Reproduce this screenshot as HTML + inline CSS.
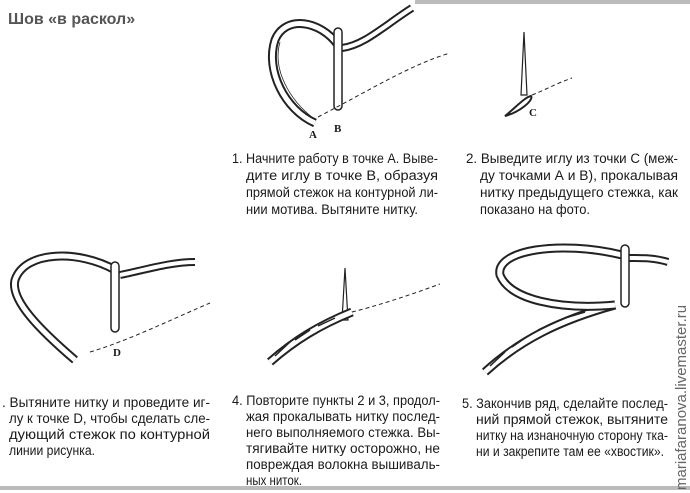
<!DOCTYPE html>
<html><head><meta charset="utf-8"><style>
body{margin:0;background:#fff;}
svg{display:block}
text{font-family:"Liberation Sans",sans-serif;fill:#1a1a1a;}
.p{font-size:13.5px}
</style></head><body>
<svg width="690" height="493" viewBox="0 0 690 493" xmlns="http://www.w3.org/2000/svg">
<rect width="690" height="493" fill="#fff"/>
<rect x="415" y="0" width="275" height="4" fill="#bbb"/>
<rect x="0" y="486" width="690" height="4" fill="#bbb"/>
<text x="8" y="24" style="font-size:16px;font-weight:bold;fill:#555">Шов «в раскол»</text>

<g fill="none" stroke="#222">
<!-- fig1 -->
<path d="M315,123 C285,110 265,70 275,40 C285,15 320,20 338,45" stroke-width="9"/>
<path d="M315,123 C285,110 265,70 275,40 C285,15 320,20 338,45" stroke-width="5" stroke="#fff"/>
<path d="M313,118 C290,100 272,70 280,42" stroke-width="0.8"/>
<path d="M342,48 C365,45 385,25 412,8" stroke-width="8"/>
<path d="M342,48 C365,45 385,25 412,8" stroke-width="4" stroke="#fff"/>
<rect x="334" y="28" width="8" height="82" rx="4" stroke-width="1.5" fill="#fff"/>
<path d="M318,117 C370,90 410,65 450,53" stroke-width="1" stroke-dasharray="4,3"/>
<!-- fig2 -->
<path d="M524,32 L521,95 L527,95 Z" stroke-width="1.2" fill="#fff"/>
<path d="M505,116 C515,108 525,97 531,96 C534,100 520,112 505,116 Z" stroke-width="2" fill="#fff"/>
<path d="M532,95 C545,90 555,84 572,78" stroke-width="1" stroke-dasharray="4,3"/>
<!-- fig3 -->
<path d="M75,360 C40,330 10,300 15,280 C25,250 80,250 115,270" stroke-width="9"/>
<path d="M75,360 C40,330 10,300 15,280 C25,250 80,250 115,270" stroke-width="5" stroke="#fff"/>
<path d="M120,275 C145,270 170,262 195,262" stroke-width="8"/>
<path d="M120,275 C145,270 170,262 195,262" stroke-width="4" stroke="#fff"/>
<rect x="111" y="262" width="8" height="70" rx="4" stroke-width="1.5" fill="#fff"/>
<path d="M90,352 C130,340 170,320 210,303" stroke-width="1" stroke-dasharray="4,3"/>
<!-- fig4 -->
<path d="M345,268 L342,320 L348,320 Z" stroke-width="1.2" fill="#fff"/>
<path d="M270,362 C295,340 320,325 352,312" stroke-width="9"/>
<path d="M270,362 C295,340 320,325 352,312" stroke-width="5" stroke="#fff"/>
<path d="M275,356 L290,342 M295,340 L310,330 M318,326 L335,318" stroke-width="1.5"/>
<path d="M352,312 C380,305 410,295 440,284" stroke-width="1" stroke-dasharray="4,3"/>
<!-- fig5 -->
<path d="M485,372 C520,340 560,320 615,305" stroke-width="9"/>
<path d="M485,372 C520,340 560,320 615,305" stroke-width="5" stroke="#fff"/>
<path d="M490,366 L505,352 M512,347 L528,336 M538,330 L555,322 M565,318 L585,312" stroke-width="1.5"/>
<path d="M615,305 C560,310 510,300 500,275 C495,250 560,240 622,255" stroke-width="9"/>
<path d="M615,305 C560,310 510,300 500,275 C495,250 560,240 622,255" stroke-width="5" stroke="#fff"/>
<path d="M628,258 C645,258 655,258 668,262" stroke-width="8"/>
<path d="M628,258 C645,258 655,258 668,262" stroke-width="4" stroke="#fff"/>
<rect x="621" y="245" width="8" height="62" rx="4" stroke-width="1.5" fill="#fff"/>
</g>
<text x="309" y="138" style="font-family:'Liberation Serif',serif;font-size:11px;font-weight:bold">A</text>
<text x="334" y="132" style="font-family:'Liberation Serif',serif;font-size:11px;font-weight:bold">B</text>
<text x="529" y="116" style="font-family:'Liberation Serif',serif;font-size:11px;font-weight:bold">C</text>
<text x="113" y="356" style="font-family:'Liberation Serif',serif;font-size:11px;font-weight:bold">D</text>

<g class="p" lengthAdjust="spacingAndGlyphs">
<text x="232" y="163" textLength="206" lengthAdjust="spacingAndGlyphs">1. Начните работу в точке А. Выве-</text>
<text x="246" y="180" textLength="192" lengthAdjust="spacingAndGlyphs">дите иглу в точке В, образуя</text>
<text x="246" y="197" textLength="192" lengthAdjust="spacingAndGlyphs">прямой стежок на контурной ли-</text>
<text x="246" y="214" textLength="172" lengthAdjust="spacingAndGlyphs">нии мотива. Вытяните нитку.</text>
<text x="466" y="163" textLength="212" lengthAdjust="spacingAndGlyphs">2. Выведите иглу из точки С (меж-</text>
<text x="480" y="180" textLength="198" lengthAdjust="spacingAndGlyphs">ду точками А и В), прокалывая</text>
<text x="480" y="197" textLength="198" lengthAdjust="spacingAndGlyphs">нитку предыдущего стежка, как</text>
<text x="480" y="214" textLength="110" lengthAdjust="spacingAndGlyphs">показано на фото.</text>

<text x="2" y="407" textLength="208" lengthAdjust="spacingAndGlyphs">. Вытяните нитку и проведите иг-</text>
<text x="9" y="423" textLength="201" lengthAdjust="spacingAndGlyphs">лу к точке D, чтобы сделать сле-</text>
<text x="9" y="439" textLength="201" lengthAdjust="spacingAndGlyphs">дующий стежок по контурной</text>
<text x="9" y="455" textLength="86" lengthAdjust="spacingAndGlyphs">линии рисунка.</text>

<text x="232" y="405" textLength="208" lengthAdjust="spacingAndGlyphs">4. Повторите пункты 2 и 3, продол-</text>
<text x="246" y="421" textLength="194" lengthAdjust="spacingAndGlyphs">жая прокалывать нитку послед-</text>
<text x="246" y="437" textLength="194" lengthAdjust="spacingAndGlyphs">него выполняемого стежка. Вы-</text>
<text x="246" y="453" textLength="194" lengthAdjust="spacingAndGlyphs">тягивайте нитку осторожно, не</text>
<text x="246" y="469" textLength="194" lengthAdjust="spacingAndGlyphs">повреждая волокна вышиваль-</text>
<text x="246" y="485" textLength="56" lengthAdjust="spacingAndGlyphs">ных ниток.</text>

<text x="462" y="408" textLength="206" lengthAdjust="spacingAndGlyphs">5. Закончив ряд, сделайте послед-</text>
<text x="476" y="424" textLength="192" lengthAdjust="spacingAndGlyphs">ний прямой стежок, вытяните</text>
<text x="476" y="440" textLength="192" lengthAdjust="spacingAndGlyphs">нитку на изнаночную сторону тка-</text>
<text x="476" y="456" textLength="188" lengthAdjust="spacingAndGlyphs">ни и закрепите там ее «хвостик».</text>
</g>
<text transform="translate(686,490) rotate(-90)" style="font-family:'Liberation Sans',sans-serif;font-size:15px;fill:#666">mariafaranova.livemaster.ru</text>
</svg>
</body></html>
